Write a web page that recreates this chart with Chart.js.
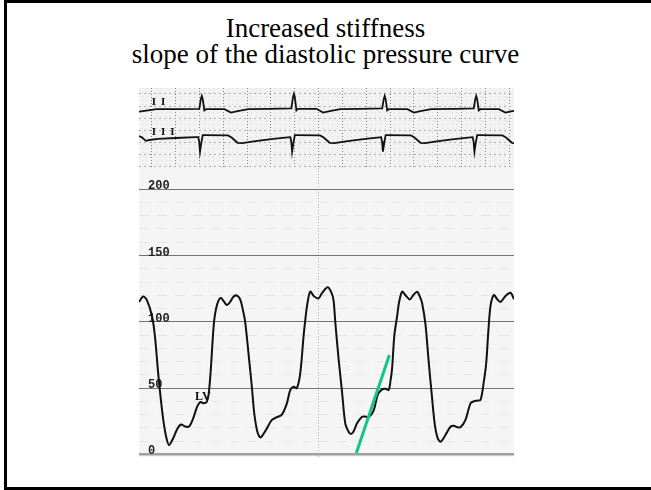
<!DOCTYPE html>
<html>
<head>
<meta charset="utf-8">
<script src="https://cdn.jsdelivr.net/npm/chart.js@4.4.1/dist/chart.umd.min.js"></script>
<style>
  html, body { margin:0; padding:0; background:#fff; width:651px; height:490px; overflow:hidden; }
  #frame { position:absolute; left:4px; top:0; width:700px; height:490px; box-sizing:border-box;
           border-left:3px solid #000; border-top:3px solid #000; border-bottom:3px solid #000; }
  #title { position:absolute; left:0; top:15px; width:651px; text-align:center;
           font-family:"Liberation Serif","Times New Roman",serif; font-size:27px; line-height:26px; color:#000; }
  #ecgBox { position:absolute; left:139px; top:88px; width:375px; height:80px; }
  #prBox  { position:absolute; left:139px; top:168px; width:375px; height:289px; }
</style>
</head>
<body>
<div id="frame"></div>
<div id="title"></div>
<div id="ecgBox"><canvas id="ecg"></canvas></div>
<div id="prBox"><canvas id="pr"></canvas></div>
<script>
// ---------------- data ----------------
const titleLines = ['Increased stiffness', 'slope of the diastolic pressure curve'];

const timeMin = -0.107, timeMax = 3.04;           // seconds shown on the strip

const pressureTicks = [0, 50, 100, 150, 200];     // mmHg labels
const pressureFaintLevels = [10,20,30,40,60,70,80,90,110,120,130,140,160,170,180,190];
const pressureMarkTimes = [1.4];                  // vertical dotted marker on pressure paper

const ecgMajorTimes = [0,0.2,0.4,0.6,0.8,1.0,1.2,1.4,1.6,1.8,2.0,2.2,2.4,2.6,2.8,3.0];
const ecgLevelsII = [0.38, 0.08, -0.22, -0.52, -0.82, -1.12, -1.42];

// LV pressure trace [time s, mmHg]
const lvPressure = [
  [-0.107,115],[-0.071,119],[-0.039,116],[0.003,104],[0.028,88],[0.053,62],[0.078,40],[0.103,22],[0.124,12],[0.145,7],
  [0.179,12],[0.213,19],[0.246,22.5],[0.280,21],[0.313,21],[0.347,27],[0.381,36],[0.410,39.5],[0.435,38.5],[0.461,39.5],
  [0.477,45],[0.494,62],[0.511,86],[0.524,101],[0.540,110],[0.560,116],[0.580,118],[0.608,115],[0.630,112.6],[0.658,115],
  [0.687,119],[0.717,119.7],[0.746,116],[0.767,108],[0.784,100],[0.812,76],[0.840,51],[0.860,31],[0.882,18.5],[0.899,14],
  [0.914,12.8],[0.935,15],[0.966,19.6],[1.008,26],[1.050,28],[1.092,30],[1.134,38.5],[1.162,48.5],[1.190,51],[1.218,50],
  [1.246,61],[1.274,89],[1.288,101],[1.305,113],[1.330,122.7],[1.364,119],[1.400,117.7],[1.431,122],[1.476,126],[1.508,122],
  [1.526,116],[1.540,100],[1.568,72],[1.597,47],[1.624,23.4],[1.652,17.1],[1.671,15.3],[1.692,17],[1.723,23.4],[1.765,28.4],
  [1.792,28.5],[1.820,28],[1.862,33],[1.897,45],[1.933,49],[1.961,49.5],[1.988,48.5],[2.003,55],[2.017,65],[2.036,90],
  [2.059,104],[2.074,114],[2.101,122.7],[2.129,120],[2.165,116.9],[2.198,120.5],[2.227,122.7],[2.250,119],[2.269,114],[2.297,98],
  [2.324,70],[2.353,42],[2.376,22],[2.400,12.1],[2.425,9.5],[2.465,14.6],[2.507,20.8],[2.534,21.5],[2.566,20.5],[2.591,20.4],
  [2.633,26],[2.675,38.5],[2.703,40],[2.731,40.5],[2.759,41],[2.787,55],[2.807,69],[2.824,92],[2.843,112],[2.871,120.2],
  [2.899,117],[2.927,115],[2.969,119.5],[3.011,121.9],[3.040,117]
];

// diastolic slope marker [time s, mmHg]
const slopeLine = [[1.717,1],[1.994,75]];

const lvLabel = { text:'LV', t:0.364, p:41 };
const leadLabels = [ { text:'II', axis:'yII', t:0.0, v:0.03 }, { text:'III', axis:'yIII', t:0.0, v:0.0 } ];

// ECG lead II [time s, mV]
const leadII = [
  [-0.107,-0.06],[-0.06,-0.04],[0.04,0.0],[0.20,0.0],
  [0.399,0.01],[0.412,0.25],[0.420,0.33],[0.428,0.25],[0.441,-0.03],[0.455,0.0],[0.61,0.0],[0.665,-0.085],[0.72,-0.05],[0.81,0.0],
  [0.98,0.01],[1.172,0.02],[1.185,0.30],[1.193,0.38],[1.201,0.30],[1.214,-0.03],[1.228,0.01],[1.383,0.01],[1.438,-0.085],[1.493,-0.05],[1.583,0.0],
  [1.75,0.01],[1.934,0.02],[1.947,0.25],[1.955,0.33],[1.963,0.25],[1.976,-0.03],[1.990,0.0],[2.145,0.0],[2.200,-0.085],[2.255,-0.05],[2.345,0.0],
  [2.55,0.01],[2.702,0.02],[2.715,0.25],[2.723,0.33],[2.731,0.25],[2.744,-0.03],[2.758,0.0],[2.913,0.0],[2.968,-0.085],[3.023,-0.05],[3.04,-0.04]
];

// ECG lead III [time s, mV]
const leadIII = [
  [-0.107,0.04],[-0.08,0.0],[-0.05,-0.08],[-0.02,-0.06],[0.05,-0.03],[0.20,-0.01],[0.37,0.01],
  [0.39,0.01],[0.398,-0.1],[0.405,-0.35],[0.415,-0.15],[0.428,0.06],[0.45,0.06],[0.64,0.055],[0.67,0.0],[0.72,-0.13],[0.76,-0.14],[0.87,-0.09],[1.02,-0.03],[1.12,0.0],
  [1.163,0.01],[1.171,-0.1],[1.178,-0.35],[1.188,-0.15],[1.201,0.06],[1.223,0.06],[1.413,0.055],[1.443,0.0],[1.493,-0.13],[1.533,-0.14],[1.643,-0.09],[1.793,-0.03],[1.893,0.0],
  [1.925,0.01],[1.933,-0.1],[1.940,-0.35],[1.950,-0.15],[1.963,0.06],[1.985,0.06],[2.175,0.055],[2.205,0.0],[2.255,-0.13],[2.295,-0.14],[2.405,-0.09],[2.555,-0.03],[2.655,0.0],
  [2.693,0.01],[2.701,-0.1],[2.708,-0.35],[2.718,-0.15],[2.731,0.06],[2.753,0.06],[2.943,0.055],[2.973,0.0],[3.023,-0.13],[3.04,-0.14]
];

// ---------------- rendering ----------------
document.getElementById('title').innerHTML = titleLines.map(s => '<div>' + s + '</div>').join('');

const toXY = arr => arr.map(p => ({ x:p[0], y:p[1] }));
const setTicks = vals => (scale => { scale.ticks = vals.map(v => ({ value:v })); });
const zeroW = s => { s.width = 0; s.paddingTop = 0; s.paddingBottom = 0; s.paddingLeft = 0; s.paddingRight = 0; };
const zeroH = s => { s.height = 0; s.paddingTop = 0; s.paddingBottom = 0; s.paddingLeft = 0; s.paddingRight = 0; };

const bgPlugin = color => ({
  id:'bg' + color.replace('#',''),
  beforeDraw(chart) {
    const { ctx, chartArea:a } = chart;
    ctx.save(); ctx.fillStyle = color; ctx.fillRect(a.left, a.top, a.right - a.left, a.bottom - a.top); ctx.restore();
  }
});

const fineTimes = [];
for (let k = -2; k <= 76; k++) { const v = +(k * 0.04).toFixed(2); if (Math.abs(v / 0.2 - Math.round(v / 0.2)) > 1e-6) fineTimes.push(v); }

const ecgLabelPlugin = {
  id:'ecgLabels',
  afterDatasetsDraw(chart) {
    const { ctx, scales } = chart;
    ctx.save();
    ctx.fillStyle = '#111';
    ctx.font = 'bold 11px "Liberation Serif", serif';
    try { ctx.letterSpacing = '5px'; } catch (e) {}
    ctx.textBaseline = 'bottom';
    leadLabels.forEach(l => ctx.fillText(l.text, scales.x.getPixelForValue(l.t), scales[l.axis].getPixelForValue(l.v)));
    ctx.restore();
  }
};

new Chart(document.getElementById('ecg'), {
  type:'line',
  data:{ datasets:[
    { data:toXY(leadII), yAxisID:'yII', borderColor:'#111', borderWidth:1.8, pointRadius:0, tension:0, fill:false },
    { data:toXY(leadIII), yAxisID:'yIII', borderColor:'#111', borderWidth:1.8, pointRadius:0, tension:0, fill:false }
  ]},
  options:{
    responsive:true, maintainAspectRatio:false, animation:false, devicePixelRatio:1, events:[],
    layout:{ padding:0 },
    plugins:{ legend:{ display:false }, tooltip:{ enabled:false } },
    scales:{
      x:{ type:'linear', min:timeMin, max:timeMax, afterBuildTicks:setTicks(ecgMajorTimes), afterFit:zeroH,
          ticks:{ display:false }, grid:{ color:'#808080', lineWidth:1, drawTicks:false }, border:{ display:false, dash:[1,2] } },
      xf:{ type:'linear', min:timeMin, max:timeMax, afterBuildTicks:setTicks(fineTimes), afterFit:zeroH,
          ticks:{ display:false }, grid:{ color:'#dadada', lineWidth:1, drawTicks:false }, border:{ display:false, dash:[1,3] } },
      yII:{ type:'linear', min:-1.47, max:0.53, afterBuildTicks:setTicks(ecgLevelsII), afterFit:zeroW,
          ticks:{ display:false }, grid:{ color:'#b0b0b0', lineWidth:1, drawTicks:false }, border:{ display:false, dash:[2,3] } },
      yIII:{ type:'linear', min:-0.76, max:1.24, display:false }
    }
  },
  plugins:[ bgPlugin('#f2f2f2'), ecgLabelPlugin ]
});

const lvPlugin = {
  id:'lvLabel',
  afterDatasetsDraw(chart) {
    const { ctx, scales } = chart;
    ctx.save();
    ctx.fillStyle = '#111';
    ctx.font = 'bold 12px "Liberation Serif", serif';
    ctx.textBaseline = 'alphabetic';
    ctx.fillText(lvLabel.text, scales.x.getPixelForValue(lvLabel.t), scales.y.getPixelForValue(lvLabel.p));
    ctx.restore();
  }
};

new Chart(document.getElementById('pr'), {
  type:'line',
  data:{ datasets:[
    { data:toXY(slopeLine), borderColor:'#16c38c', borderWidth:3, pointRadius:0, tension:0, fill:false, order:0 },
    { data:toXY(lvPressure), borderColor:'#111', borderWidth:2, pointRadius:0, tension:0.3, fill:false, order:1 }
  ]},
  options:{
    responsive:true, maintainAspectRatio:false, animation:false, devicePixelRatio:1, events:[],
    layout:{ padding:0 },
    plugins:{ legend:{ display:false }, tooltip:{ enabled:false } },
    scales:{
      x:{ type:'linear', min:timeMin, max:timeMax, afterBuildTicks:setTicks(pressureMarkTimes), afterFit:zeroH,
          ticks:{ display:false }, grid:{ color:'#b5b5b5', lineWidth:1, drawTicks:false }, border:{ display:false, dash:[1,2] } },
      yf:{ type:'linear', position:'left', min:-2, max:216, afterBuildTicks:setTicks(pressureFaintLevels), afterFit:zeroW,
          ticks:{ display:false }, grid:{ color:'rgba(0,0,0,0.06)', lineWidth:1, drawTicks:false }, border:{ display:false, dash:[10,8] } },
      y:{ type:'linear', position:'left', min:-2, max:216, afterBuildTicks:setTicks(pressureTicks), afterFit:zeroW,
          ticks:{ display:true, mirror:true, padding:9, labelOffset:-3, color:'#222',
                  font:{ family:'"Liberation Mono", monospace', weight:'bold', size:12 } },
          grid:{ color:c => c.tick && c.tick.value === 0 ? '#a0a0a0' : '#747474',
                 lineWidth:c => c.tick && c.tick.value === 0 ? 2.5 : 1, drawTicks:false },
          border:{ display:false } }
    }
  },
  plugins:[ bgPlugin('#f5f5f5'), lvPlugin ]
});
</script>
</body>
</html>
